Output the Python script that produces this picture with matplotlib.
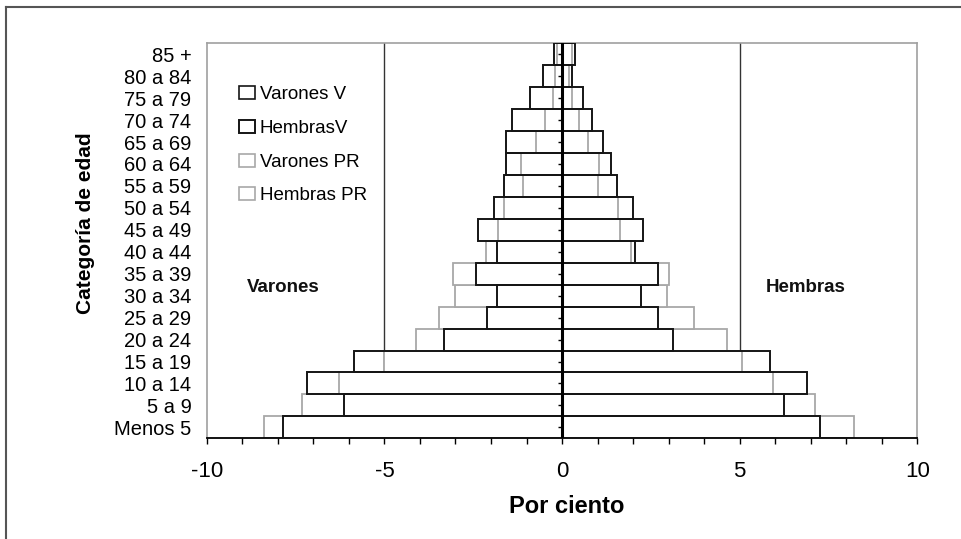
import numpy as np
import matplotlib
matplotlib.use("Agg")
import matplotlib.pyplot as plt
from matplotlib.patches import Patch
from matplotlib.lines import Line2D

plt.rcParams['font.family'] = ['Liberation Sans', 'DejaVu Sans']

categories = ['Menos 5', '5 a 9', '10 a 14', '15 a 19', '20 a 24', '25 a 29',
              '30 a 34', '35 a 39', '40 a 44', '45 a 49', '50 a 54', '55 a 59',
              '60 a 64', '65 a 69', '70 a 74', '75 a 79', '80 a 84', '85 +']
varones_v = [7.86, 6.13, 7.17, 5.85, 3.31, 2.10, 1.84, 2.43, 1.84, 2.36,
             1.91, 1.63, 1.59, 1.59, 1.42, 0.90, 0.53, 0.22]
hembras_v = [7.27, 6.26, 6.89, 5.84, 3.12, 2.69, 2.22, 2.69, 2.06, 2.27,
             2.01, 1.54, 1.37, 1.16, 0.84, 0.58, 0.27, 0.37]
varones_pr = [8.39, 7.33, 6.27, 5.00, 4.10, 3.47, 3.00, 3.06, 2.15, 1.81,
              1.63, 1.11, 1.15, 0.73, 0.48, 0.26, 0.20, 0.15]
hembras_pr = [8.22, 7.13, 5.95, 5.06, 4.64, 3.70, 2.95, 3.00, 1.94, 1.63,
              1.57, 1.00, 1.05, 0.74, 0.48, 0.27, 0.20, 0.28]
series_labels = ['Varones V', 'HembrasV', 'Varones PR', 'Hembras PR']

BLACK = '#151515'
GRAY = '#a8a8a8'

fig = plt.figure(figsize=(9.62, 5.39), dpi=100)
ax = fig.add_axes([0.2149, 0.1868, 0.7387, 0.7329])

y = np.arange(len(categories))

# gray (PR) bars with white fill first
ax.barh(y, -np.array(varones_pr), height=1.0, facecolor='white', edgecolor=GRAY, linewidth=1.3, zorder=2)
ax.barh(y, np.array(hembras_pr), height=1.0, facecolor='white', edgecolor=GRAY, linewidth=1.3, zorder=2)
# black (V) bar outlines on top
ax.barh(y, -np.array(varones_v), height=1.0, facecolor='none', edgecolor=BLACK, linewidth=1.4, zorder=3)
ax.barh(y, np.array(hembras_v), height=1.0, facecolor='none', edgecolor=BLACK, linewidth=1.4, zorder=3)

# center axis line with small ticks
ax.axvline(0, color='black', linewidth=2.2, zorder=5)
ax.plot(np.zeros(len(categories)), y, linestyle='none', marker=0, markersize=3,
        markeredgewidth=1.0, color='black', zorder=5)

ax.set_xlim(-10, 10)
ax.set_ylim(-0.5, len(categories) - 0.5)

# gridlines at major ticks
for v in (-5, 5):
    ax.axvline(v, color='#333333', linewidth=1.0, zorder=1)

ax.set_xticks([-10, -5, 0, 5, 10])
ax.set_xticklabels(['-10', '-5', '0', '5', '10'])
ax.set_xticks(np.arange(-10, 11, 1), minor=True)
ax.tick_params(axis='x', which='both', direction='out', length=4, width=1, color='black',
               labelsize=16, pad=12)
ax.set_yticks(y)
ax.set_yticklabels(categories)
ax.tick_params(axis='y', length=0, labelsize=14.5, pad=11)

for s in ('top', 'left', 'right'):
    ax.spines[s].set_color('#a0a0a0')
    ax.spines[s].set_linewidth(1.2)
ax.spines['bottom'].set_color('black')
ax.spines['bottom'].set_linewidth(1.3)

ax.set_xlabel('Por ciento', fontsize=17, fontweight='bold')
ax.xaxis.set_label_coords(0.507, -0.143)
ax.set_ylabel('Categoría de edad', fontsize=15, fontweight='bold')
ax.yaxis.set_label_coords(-0.171, 0.545)
ax.yaxis.label.set_va('center')

ax.text(-7.86, 6.35, 'Varones', fontsize=13.5, fontweight='bold', ha='center', va='center', color='#111111')
ax.text(6.85, 6.35, 'Hembras', fontsize=13.5, fontweight='bold', ha='center', va='center', color='#111111')

handles = [Patch(facecolor='white', edgecolor=BLACK, linewidth=1.2),
           Patch(facecolor='white', edgecolor=BLACK, linewidth=1.4),
           Patch(facecolor='white', edgecolor=GRAY, linewidth=1.2),
           Patch(facecolor='white', edgecolor=GRAY, linewidth=1.2)]
ax.legend(handles, series_labels, loc='upper left', bbox_to_anchor=(0.035, 0.91),
          frameon=False, fontsize=13.5, handlelength=0.85, handleheight=0.7,
          handletextpad=0.25, labelspacing=0.88, borderaxespad=0)

# outer figure border (top and left)
fig.add_artist(Line2D([6 / 962, 1], [1 - 7 / 539, 1 - 7 / 539], color='#555555', linewidth=1.5,
                      transform=fig.transFigure))
fig.add_artist(Line2D([6 / 962, 6 / 962], [0, 1 - 7 / 539], color='#555555', linewidth=1.5,
                      transform=fig.transFigure))

fig.savefig('out.png', dpi=100)
